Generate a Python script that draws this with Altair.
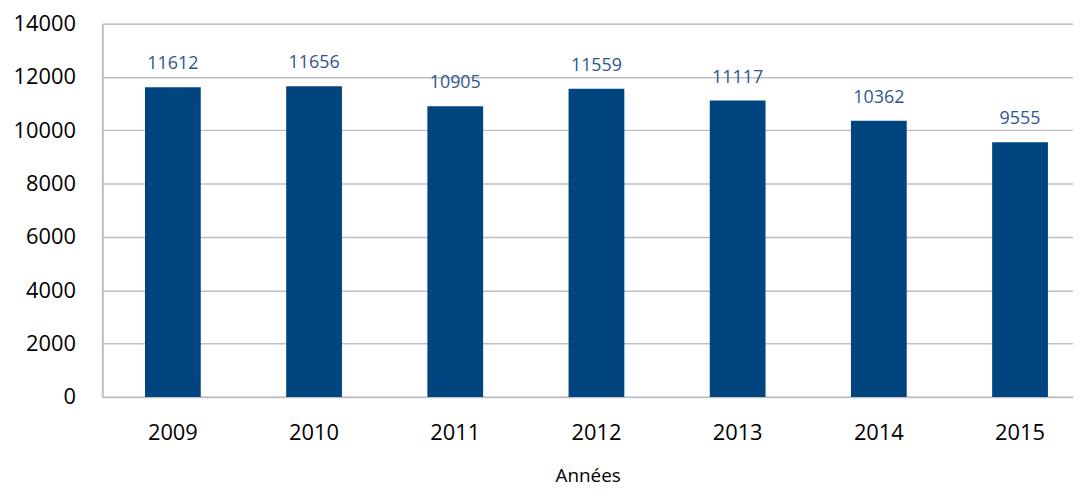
import altair as alt
import pandas as pd

years = ["2009", "2010", "2011", "2012", "2013", "2014", "2015"]
values = [11612, 11656, 10905, 11559, 11117, 10362, 9555]

df = pd.DataFrame({"annee": years, "valeur": values})

FONT = "Open Sans"

base = alt.Chart(df).encode(
    x=alt.X("annee:N", sort=years,
            scale=alt.Scale(paddingInner=0.605, paddingOuter=0.24, align=0.63),
            axis=alt.Axis(title="Années", labelAngle=0, labelFontSize=22,
                          labelColor="#000000", labelPadding=26,
                          titleFontSize=19, titleFontWeight="normal",
                          titleColor="#000000", titlePadding=23,
                          domainColor="#BFBFBF", domainWidth=2, ticks=False,
                          labelFont=FONT, titleFont=FONT)),
)

bars = base.mark_bar(color="#00457F").encode(
    y=alt.Y("valeur:Q", scale=alt.Scale(domain=[0, 14000]),
            axis=alt.Axis(title=None, values=[0, 2000, 4000, 6000, 8000, 10000, 12000, 14000],
                          format="d", labelFontSize=22, labelColor="#000000",
                          labelPadding=27, labelFont=FONT,
                          gridColor="#BFBFBF", gridWidth=1.5,
                          domainColor="#BFBFBF", domainWidth=2, ticks=False))
)

labels = base.mark_text(baseline="bottom", dy=-14, fontSize=18, font=FONT,
                        color="#2F5591").encode(
    y="valeur:Q",
    text=alt.Text("valeur:Q", format="d"),
)

chart = (bars + labels).properties(
    width=978, height=376,
    autosize=alt.AutoSizeParams(type="none"),
    padding={"left": 95, "top": 14, "right": 0, "bottom": 89},
).configure_view(stroke=None).configure(background="white")

chart.save("out.html", embed_options={"renderer": "svg", "actions": False})
